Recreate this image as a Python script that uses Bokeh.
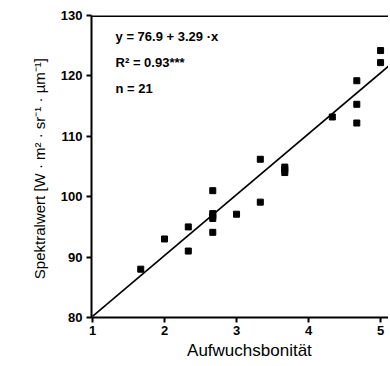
from bokeh.plotting import figure
from bokeh.models import Span, Label, Range1d, FixedTicker
from bokeh.embed import file_html
from bokeh.resources import INLINE

# data
bonitaet = [1.67, 2.0, 2.33, 2.33, 2.67, 2.67, 2.67, 2.67, 2.67, 3.0, 3.33, 3.33,
            3.67, 3.67, 4.33, 4.67, 4.67, 4.67, 5.0, 5.0, 3.67]
spektral = [88.0, 93.0, 95.0, 91.0, 101.0, 97.2, 96.4, 94.1, 96.8, 97.1, 99.1, 106.2,
            104.9, 104.0, 113.2, 119.2, 115.3, 112.2, 124.2, 122.2, 104.5]
fit_x = [1.0, 5.11]
fit_y = [80.2, 121.6]
x_ticks = [1, 2, 3, 4, 5]
y_ticks = [80, 90, 100, 110, 120, 130]
annotations = ["y = 76.9 + 3.29 ·x", "R² = 0.93***", "n = 21"]

FONT = "Liberation Sans"

p = figure(frame_width=297, frame_height=302, output_backend="svg", toolbar_location=None,
           x_range=Range1d(0.986, 5.11), y_range=Range1d(80, 130),
           min_border_left=91, min_border_top=15, min_border_right=0, min_border_bottom=30)
p.background_fill_color = "white"
p.border_fill_color = "white"
p.outline_line_color = None
p.xgrid.visible = False
p.ygrid.visible = False

for ax in (p.xaxis[0], p.yaxis[0]):
    ax.axis_line_width = 2
    ax.axis_line_color = "black"
    ax.major_tick_line_width = 2
    ax.major_tick_line_color = "black"
    ax.major_tick_out = 5
    ax.major_tick_in = 0
    ax.minor_tick_line_color = None
    ax.major_label_text_font = FONT
    ax.major_label_text_font_style = "bold"
    ax.major_label_text_font_size = "13px"
    ax.major_label_text_color = "black"
    ax.axis_label_text_font = FONT
    ax.axis_label_text_font_style = "normal"
    ax.axis_label_text_color = "black"

p.xaxis.ticker = FixedTicker(ticks=x_ticks)
p.yaxis.ticker = FixedTicker(ticks=y_ticks)
p.xaxis.axis_label = "\u00a0\u00a0\u00a0\u00a0Aufwuchsbonität"
p.yaxis.axis_label = "Spektralwert  [W · m² · sr⁻¹ · µm⁻¹]"
p.xaxis.axis_label_text_font_size = "17px"
p.yaxis.axis_label_text_font_size = "15px"
p.xaxis.major_label_standoff = 3
p.yaxis.major_label_standoff = 4
p.xaxis.axis_label_standoff = 3
p.yaxis.axis_label_standoff = 10

p.add_layout(Span(location=130, dimension="width", line_color="black", line_width=3))

p.line(fit_x, fit_y, line_color="black", line_width=1.6)
p.scatter(bonitaet, spektral, marker="square", size=6, fill_color="black", line_color="black")

for i, t in enumerate(annotations):
    p.add_layout(Label(x=1.32, y=126.5 - i * 4.3, text=t, text_font=FONT,
                       text_font_style="bold", text_font_size="13px",
                       text_color="black", text_baseline="middle"))

open("out.html", "w").write(file_html(p, INLINE))
